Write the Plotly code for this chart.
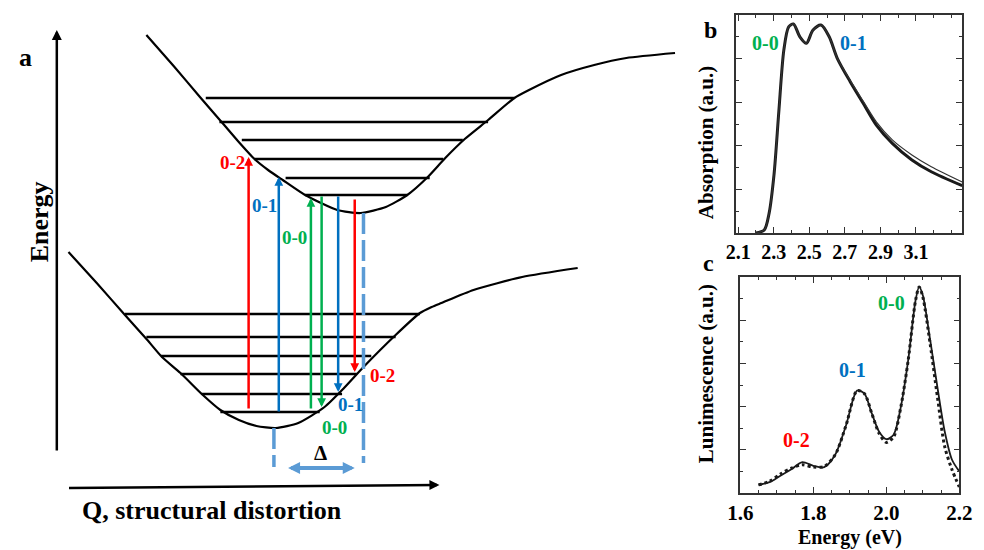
import plotly.graph_objects as go

W, H = 984, 550

# ---------------- Panel a : configuration-coordinate schematic ----------------
# potential-energy curves (Q, E) in diagram units (E grows downward on screen)
upper_q = [137, 165, 192, 216, 231, 248, 262, 277, 300, 333, 357, 383, 405, 425, 444, 464, 488, 515, 530, 563, 597, 630, 680]
upper_e = [35, 66, 97, 124, 141, 159, 170, 180, 195, 210, 213, 207, 195, 178, 158, 139, 120, 98, 90, 75, 65, 58, 53]
lower_q = [57, 86, 115, 138, 153, 172, 195, 213, 232, 250, 270, 293, 320, 340, 360, 393, 418, 430, 440, 473, 523, 580]
lower_e = [252, 283, 315, 340, 357, 373, 395, 410, 420, 426, 428, 423, 407, 388, 367, 335, 313, 307, 303, 290, 277, 268]

# vibrational levels
upper_level_e = [98, 122, 140, 159, 178, 195]
upper_level_q0 = [198, 212, 235, 248, 280, 300]
upper_level_q1 = [515, 488, 462, 442, 428, 405]
lower_level_e = [314, 337, 356, 374, 394, 412]
lower_level_q0 = [115, 137, 152, 172, 194, 213]
lower_level_q1 = [418, 393, 368, 353, 338, 315]

# vertical transitions
trans_q = [242, 273, 306, 317, 334, 351]
trans_from = [410, 413, 410, 195, 195, 198]
trans_to = [157, 177, 198, 407, 392, 372]
trans_labels = ["0-2", "0-1", "0-0", "0-0", "0-1", "0-2"]

# minima (for the Δ displacement)
min_q = [268, 360]
min_e = [428, 213]
delta_bottom = [467, 463]

# ---------------- Panel b : absorption ----------------
abs_energy = [2.20, 2.247, 2.274, 2.302, 2.329, 2.357, 2.384, 2.411, 2.447, 2.484, 2.52,
              2.566, 2.612, 2.658, 2.73, 2.803, 2.877, 2.967, 3.077, 3.186, 3.36]
abs_meas = [0.0, 0.014, 0.09, 0.27, 0.56, 0.84, 0.946, 0.959, 0.90, 0.87, 0.93,
            0.954, 0.90, 0.80, 0.694, 0.595, 0.495, 0.411, 0.335, 0.281, 0.217]
abs_fit = [0.0, 0.014, 0.09, 0.27, 0.56, 0.84, 0.946, 0.959, 0.90, 0.87, 0.93,
           0.954, 0.90, 0.80, 0.70, 0.605, 0.51, 0.427, 0.358, 0.304, 0.234]
abs_ticks = [2.1, 2.3, 2.5, 2.7, 2.9, 3.1]

# ---------------- Panel c : luminescence ----------------
lum_energy = [1.65, 1.68, 1.71, 1.74, 1.77, 1.80, 1.83, 1.86, 1.89, 1.92, 1.94, 1.96, 1.98,
              2.00, 2.02, 2.04, 2.06, 2.08, 2.09, 2.10, 2.12, 2.14, 2.16, 2.18, 2.20]
lum_meas = [0.038, 0.054, 0.088, 0.115, 0.131, 0.12, 0.123, 0.177, 0.315, 0.474, 0.46, 0.37, 0.277,
            0.234, 0.26, 0.40, 0.615, 0.89, 0.954, 0.908, 0.692, 0.446, 0.215, 0.108, 0.028]
lum_fit = [0.038, 0.05, 0.08, 0.11, 0.143, 0.126, 0.12, 0.177, 0.315, 0.474, 0.46, 0.37, 0.285,
           0.249, 0.27, 0.40, 0.615, 0.89, 0.954, 0.915, 0.71, 0.49, 0.285, 0.154, 0.10]
lum_ticks = [1.6, 1.8, 2.0, 2.2]

RED, BLUE, GREEN, LBLUE = "#FF0000", "#0070C0", "#00B050", "#5B9BD5"
trans_colors = [RED, BLUE, GREEN, GREEN, BLUE, RED]
SERIF = "Liberation Serif, Times New Roman, serif"

fig = go.Figure()

# --- panel a traces ---
fig.add_trace(go.Scatter(x=upper_q, y=upper_e, mode="lines",
                         line=dict(color="black", width=2.2, shape="spline", smoothing=0.6),
                         xaxis="x3", yaxis="y3", hoverinfo="skip"))
fig.add_trace(go.Scatter(x=lower_q, y=lower_e, mode="lines",
                         line=dict(color="black", width=2.2, shape="spline", smoothing=0.6),
                         xaxis="x3", yaxis="y3", hoverinfo="skip"))
lx, ly = [], []
for e, q0, q1 in list(zip(upper_level_e, upper_level_q0, upper_level_q1)) + list(zip(lower_level_e, lower_level_q0, lower_level_q1)):
    lx += [q0, q1, None]
    ly += [e, e, None]
fig.add_trace(go.Scatter(x=lx, y=ly, mode="lines", line=dict(color="black", width=2.5),
                         xaxis="x3", yaxis="y3", hoverinfo="skip"))
for q, e, b in zip(min_q, min_e, delta_bottom):
    fig.add_trace(go.Scatter(x=[q, q], y=[e, b], mode="lines",
                             line=dict(color=LBLUE, width=3.5, dash="21px,6px"),
                             xaxis="x3", yaxis="y3", hoverinfo="skip"))

# --- panel b traces ---
fig.add_trace(go.Scatter(x=abs_energy, y=abs_meas, mode="lines",
                         line=dict(color="#1a1a1a", width=3, shape="spline", smoothing=0.8),
                         xaxis="x", yaxis="y", hoverinfo="skip"))
fig.add_trace(go.Scatter(x=abs_energy, y=abs_fit, mode="lines",
                         line=dict(color="#333", width=1.2, shape="spline", smoothing=0.8),
                         xaxis="x", yaxis="y", hoverinfo="skip"))

# --- panel c traces ---
fig.add_trace(go.Scatter(x=lum_energy, y=lum_meas, mode="lines",
                         line=dict(color="#1a1a1a", width=3, dash="dot", shape="spline", smoothing=0.8),
                         xaxis="x2", yaxis="y2", hoverinfo="skip"))
fig.add_trace(go.Scatter(x=lum_energy, y=lum_fit, mode="lines",
                         line=dict(color="#1a1a1a", width=1.8, shape="spline", smoothing=0.8),
                         xaxis="x2", yaxis="y2", hoverinfo="skip"))


def px(x):
    return x / W


def py(y):
    return 1 - y / H


ann = []


def text(t, x, y, size, color="black", angle=0):
    ann.append(dict(text=t, x=px(x), y=py(y), xref="paper", yref="paper", showarrow=False,
                    textangle=angle, xanchor="center", yanchor="middle", borderpad=0,
                    font=dict(family=SERIF, size=size, color=color, weight="bold")))


def arrow(x0, y0, x1, y1, color, width, size, side="end"):
    ann.append(dict(text="", x=x1, y=y1, ax=x0, ay=y0, xref="x3", yref="y3", axref="x3", ayref="y3",
                    showarrow=True, arrowhead=2, arrowsize=size, arrowwidth=width, arrowcolor=color,
                    arrowside=side, standoff=0, startstandoff=0))


# axes of the schematic
arrow(45, 452, 45, 30, "black", 2.5, 0.8)
arrow(56, 488, 438, 485, "black", 2.5, 0.8)
# transitions
for q, a, b, c in zip(trans_q, trans_from, trans_to, trans_colors):
    arrow(q, a, q, b, c, 2.5, 0.7)
# Δ
arrow(281, 468, 351, 468, LBLUE, 4, 0.6, side="end+start")

text("a", 13, 57, 26)
text("Energy", 28, 222, 26, angle=-90)
text("Q, structural distortion", 204, 510, 26)
text("Δ", 316, 453, 21)
label_pos = [(225, 162), (258, 206), (289, 237), (330, 427), (347, 404), (380, 375)]
for (x, y), t, c in zip(label_pos, trans_labels, trans_colors):
    text(t, x, y, 19, c)

# panel b texts
text("b", 716, 30, 24)
text("Absorption (a.u.)", 712, 143, 21, angle=-90)
text("0-0", 773, 43, 20, GREEN)
text("0-1", 863, 43, 20, BLUE)

# panel c texts
text("c", 714, 263, 24)
text("Lunimescence (a.u.)", 712, 374, 21, angle=-90)
text("0-0", 902, 303, 20, GREEN)
text("0-1", 862, 370, 20, BLUE)
text("0-2", 805, 440, 20, RED)
text("Energy (eV)", 860, 537, 20)

frame = dict(showline=True, linecolor="#333", linewidth=1.5, mirror="ticks", ticks="inside",
             ticklen=6, tickcolor="#333", showgrid=False, zeroline=False, fixedrange=True)
tickfont = dict(family=SERIF, size=20, color="black", weight="bold")

fig.update_layout(
    width=W, height=H, autosize=False,
    margin=dict(l=0, r=0, t=0, b=0),
    paper_bgcolor="white", plot_bgcolor="white",
    showlegend=False,
    annotations=ann,
    xaxis=dict(domain=[743 / W, 975 / W], anchor="y", range=[2.09, 3.36],
               tickmode="array", tickvals=abs_ticks, ticktext=[f"{v:.1f}" for v in abs_ticks],
               tickfont=tickfont, minor=dict(ticks="inside", ticklen=3, tickcolor="#333", tick0=2.1, dtick=0.1),
               **frame),
    yaxis=dict(domain=[1 - 233 / H, 1 - 15 / H], anchor="x", range=[0, 1.0],
               tickmode="linear", tick0=0, dtick=0.2, showticklabels=False,
               minor=dict(ticks="inside", ticklen=3, tickcolor="#333", dtick=0.1), **frame),
    xaxis2=dict(domain=[747 / W, 972 / W], anchor="y2", range=[1.6, 2.2],
                tickmode="array", tickvals=lum_ticks, ticktext=[f"{v:.1f}" for v in lum_ticks],
                ticklabeloverflow="allow",
                tickfont=dict(family=SERIF, size=21, color="black", weight="bold"),
                minor=dict(ticks="inside", ticklen=3, tickcolor="#333", tick0=1.6, dtick=0.05), **frame),
    yaxis2=dict(domain=[1 - 493 / H, 1 - 277 / H], anchor="x2", range=[0, 1.0],
                tickmode="linear", tick0=0, dtick=0.2, showticklabels=False,
                minor=dict(ticks="inside", ticklen=3, tickcolor="#333", dtick=0.1), **frame),
    xaxis3=dict(domain=[0, 700 / W], anchor="y3", range=[0, 700], visible=False, fixedrange=True),
    yaxis3=dict(domain=[0, 1], anchor="x3", range=[550, 0], visible=False, fixedrange=True),
)

fig.write_html("out.html")
